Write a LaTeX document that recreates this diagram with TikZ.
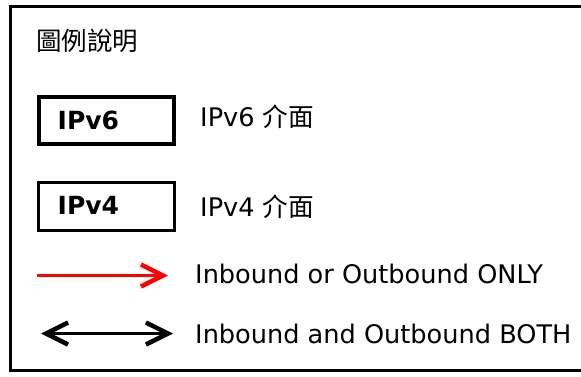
\documentclass[tikz,border=0pt]{standalone}
\usepackage{fontspec}
\setmainfont{DejaVu Sans}
\newfontfamily\cjk{Noto Sans CJK TC}
\usetikzlibrary{arrows.meta}
\tikzset{
  txt/.style={anchor=base west, inner sep=0pt, font=\fontsize{25.6}{28}\selectfont},
  boxtxt/.style={anchor=base west, inner sep=0pt, font=\fontsize{25}{28}\selectfont\bfseries},
  legbox/.style={draw=black, rectangle, inner sep=0pt},
  barb/.tip={Straight Barb[length=22pt,width=22pt,line width=4.5pt]},
}
\begin{document}
\begin{tikzpicture}[x=1pt,y=-1pt]
\useasboundingbox (0,0) rectangle (581,376);
\fill[white] (0,0) rectangle (581,376);
\clip (0,0) rectangle (581,376);
% outer frame (open on the right, cut by the image edge)
\draw[line width=3pt] (600,6.5) -- (10.5,6.5) -- (10.5,370.5) -- (600,370.5);
% title
\node[txt, font=\fontsize{25.5}{28}\selectfont] (title) at (36,50) {\cjk 圖例說明};
% IPv6 box
\node[legbox, line width=4pt, minimum width=135pt, minimum height=47pt] (v6box) at (106.5,120.5) {};
\node[boxtxt] (v6txt) at (57.5,129) {IPv6};
\node[txt] (v6lab) at (200,126) {IPv6 {\cjk 介面}};
% IPv4 box
\node[legbox, line width=3pt, minimum width=136pt, minimum height=48pt] (v4box) at (106.5,206.5) {};
\node[boxtxt] (v4txt) at (57.5,214) {IPv4};
\node[txt] (v4lab) at (200,216) {IPv4 {\cjk 介面}};
% red one-way arrow
\coordinate (r1) at (37,275.5);
\coordinate (r2) at (168,275.5);
\draw[red, line width=3.5pt, -{barb}] (r1) -- (r2);
\node[txt] (rlab) at (195,283) {Inbound or Outbound ONLY};
% black two-way arrow
\coordinate (b1) at (41,333.5);
\coordinate (b2) at (173,333.5);
\draw[black, line width=3pt, {barb}-{barb}] (b1) -- (b2);
\node[txt] (blab) at (195,343.5) {Inbound and Outbound BOTH};
\end{tikzpicture}
\end{document}
